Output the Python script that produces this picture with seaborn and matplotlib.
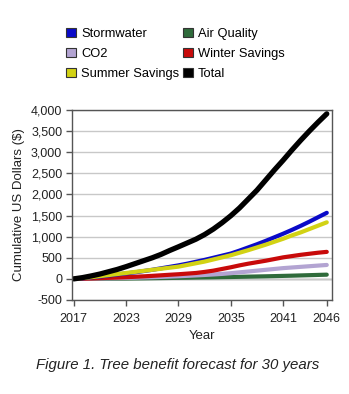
import matplotlib
matplotlib.use("Agg")
import matplotlib.pyplot as plt
from matplotlib.patches import Patch
import seaborn as sns
import pandas as pd
import numpy as np

years = list(range(2017, 2047))
total = [0, 30, 70, 115, 170, 225, 290, 360, 430, 500, 580, 673, 760, 850, 940,
         1050, 1180, 1330, 1495, 1680, 1890, 2100, 2340, 2580, 2810, 3050, 3280,
         3500, 3710, 3910]
stormwater = [0, 15, 35, 55, 80, 105, 130, 155, 185, 215, 250, 285, 320, 360, 405,
              450, 500, 550, 600, 670, 745, 820, 900, 985, 1070, 1160, 1255, 1355,
              1460, 1565]
summer = [0, 20, 40, 65, 90, 115, 140, 165, 190, 215, 240, 265, 290, 330, 370,
          410, 460, 510, 560, 620, 680, 745, 810, 880, 950, 1030, 1100, 1180,
          1260, 1340]
winter = [0, 5, 10, 18, 25, 32, 40, 50, 60, 72, 85, 98, 110, 125, 140, 165, 195,
          235, 275, 320, 360, 395, 430, 470, 510, 540, 570, 595, 620, 640]
co2 = [0, 3, 6, 10, 14, 18, 23, 28, 34, 40, 47, 55, 63, 72, 82, 93, 105, 118, 135,
       155, 175, 195, 215, 235, 255, 270, 285, 300, 315, 330]
air = [0, 1, 2, 3, 5, 7, 9, 11, 13, 16, 19, 22, 25, 28, 32, 35, 38, 42, 45, 49,
       53, 57, 61, 66, 71, 76, 82, 88, 94, 100]

xticks = [2017, 2023, 2029, 2035, 2041, 2046]
yticks = list(range(-500, 4001, 500))

series = {
    "Air Quality": air,
    "CO2": co2,
    "Winter Savings": winter,
    "Stormwater": stormwater,
    "Summer Savings": summer,
    "Total": total,
}
colors = {
    "Stormwater": "#0a0ac8",
    "Air Quality": "#2f6b3b",
    "CO2": "#b3a4d2",
    "Winter Savings": "#c80a0a",
    "Summer Savings": "#d2d214",
    "Total": "#000000",
}
widths = {"Total": 3.8}

df = pd.concat([pd.DataFrame({"Year": years, "Value": v, "Series": k})
                for k, v in series.items()], ignore_index=True)

plt.rcParams['font.family'] = ['Liberation Sans', 'DejaVu Sans']
fig = plt.figure(figsize=(3.49, 3.94), dpi=100)
ax = fig.add_axes([72/349, 1-300/394, 260/349, 190/394])

for name in series:
    sub = df[df["Series"] == name]
    sns.lineplot(data=sub, x="Year", y="Value", color=colors[name],
                 linewidth=widths.get(name, 3.0), ax=ax, legend=False,
                 solid_capstyle="round", solid_joinstyle="round")

ax.set_xlim(2016.8, 2046.6)
ax.set_ylim(-500, 4000)
ax.set_xticks(xticks)
ax.set_yticks(yticks)
ax.set_yticklabels([f"{t:,}" for t in yticks])
ax.tick_params(labelsize=9, length=4, width=1, color="#555555", labelcolor="#222222")
ax.tick_params(axis="x", pad=5)
ax.tick_params(axis="y", pad=3)
ax.yaxis.grid(True, color="#c8c8c8", linewidth=1)
ax.set_axisbelow(True)
ax.axhline(0, color="#888888", linewidth=1, zorder=0.5)
for s in ax.spines.values():
    s.set_color("#555555")
    s.set_linewidth(1)
ax.set_xlabel("Year", fontsize=9.5, color="#222222", labelpad=4)
ax.set_ylabel("Cumulative US Dollars ($)", fontsize=9.5, color="#222222", labelpad=4)

col_order = ["Stormwater", "CO2", "Summer Savings", "Air Quality", "Winter Savings", "Total"]
handles = [Patch(facecolor=colors[n], edgecolor="#333333", linewidth=0.8) for n in col_order]
fig.legend(handles, col_order, ncol=2, loc="upper left", bbox_to_anchor=(0.175, 0.942),
           frameon=False, fontsize=9.3, handlelength=0.75, handleheight=0.75,
           handletextpad=0.4, columnspacing=0.3, labelspacing=0.6, borderaxespad=0)

fig.text(0.51, 1-365/394, "Figure 1. Tree benefit forecast for 30 years",
         ha="center", va="center", fontsize=10.8, style="italic", color="#222222")

fig.savefig("out.png", dpi=100)
